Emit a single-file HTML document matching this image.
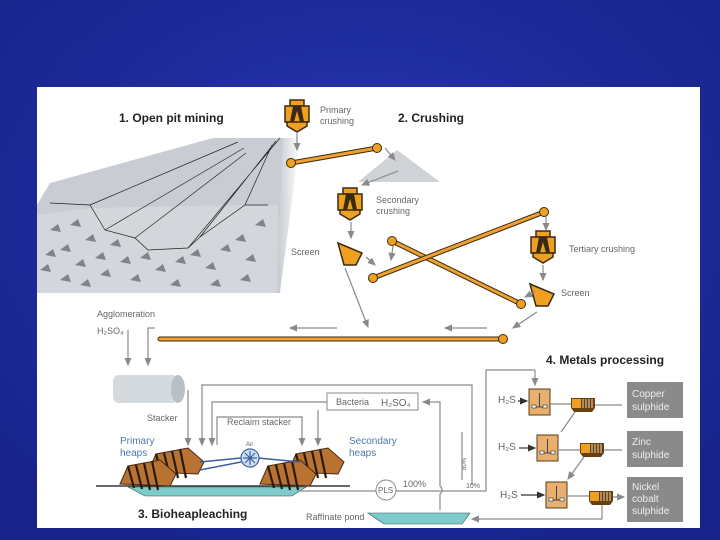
<!DOCTYPE html>
<html><head><meta charset="utf-8"><style>
html,body{margin:0;padding:0;width:720px;height:540px;overflow:hidden;background:#1f2f9e;}
svg{display:block}
text{font-family:"Liberation Sans",sans-serif;}
.l{font-size:9px;fill:#666;}
.t{font-size:12px;font-weight:bold;fill:#222;}
.b{font-size:10px;fill:#4a78b0;}
.g{stroke:#8a8a8a;stroke-width:1.2;fill:none;}
.c{stroke:#3a2a10;stroke-width:5;stroke-linecap:round;}
.ci{stroke:#f0a030;stroke-width:3;stroke-linecap:round;}
</style></head><body>
<svg width="720" height="540" viewBox="0 0 720 540" xmlns="http://www.w3.org/2000/svg">
<defs>
<radialGradient id="bg" cx="50%" cy="40%" r="70%"><stop offset="0" stop-color="#2536b0"/><stop offset="1" stop-color="#17238a"/></radialGradient>
<linearGradient id="wg" x1="0" y1="0" x2="1" y2="0"><stop offset="0" stop-color="#c4c8ce"/><stop offset="1" stop-color="#c4c8ce" stop-opacity="0"/></linearGradient>
<marker id="a" markerWidth="8" markerHeight="8" refX="6" refY="3" orient="auto"><path d="M0,0L7,3L0,6Z" fill="#8a8a8a"/></marker>
<marker id="ad" markerWidth="8" markerHeight="8" refX="6" refY="3" orient="auto"><path d="M0,0L7,3L0,6Z" fill="#333"/></marker>
<g id="cr">
<rect x="-7" y="-17" width="14" height="6" fill="#f0a020" stroke="#3a2a10" stroke-width="1.5"/>
<rect x="-12" y="-11" width="24" height="16" fill="#f0a020" stroke="#3a2a10" stroke-width="1.5"/>
<path d="M-7,5L-4,-11L4,-11L7,5Z" fill="#3a2a10"/>
<path d="M-3,5L0,-6L3,5Z" fill="#f0a020"/>
<path d="M-10,5L10,5L10,9L0,15L-10,9Z" fill="#f0a020" stroke="#3a2a10" stroke-width="1.5"/>
</g>
<g id="scr"><path d="M-12,-8L12,2L6,14L-6,14Z" fill="#f0a020" stroke="#3a2a10" stroke-width="1.5"/></g>
<g id="mx"><rect x="0" y="0" width="21" height="26" fill="#e8b070" stroke="#5a3a10" stroke-width="1"/><path d="M10.5,4V18M5,18H16" stroke="#444" fill="none"/><rect x="3" y="16" width="4" height="3" fill="#fff" stroke="#444" stroke-width=".7"/><rect x="14" y="16" width="4" height="3" fill="#fff" stroke="#444" stroke-width=".7"/></g>
<g id="fl"><path d="M0,0H24V10L21,14H3L0,10Z" fill="#6a4010"/><rect x="1" y="1" width="9" height="9" fill="#f0a020"/><path d="M12,1V10M15,1V10M18,1V10M21,1V10" stroke="#d8c0a0" stroke-width="1.2"/></g>
<g id="hp"><path d="M0,24L8,6L40,0L56,14L50,26Z" fill="#b87333" stroke="#4a2a10" stroke-width="1"/><path d="M8,6L14,28M16,5L22,29M24,3L30,30M32,1L38,30" stroke="#2a1a08" stroke-width="2.2"/></g>
</defs>
<rect width="720" height="540" fill="url(#bg)"/>
<rect x="37" y="87" width="663" height="441" fill="#fff"/>
<!-- pit -->
<path d="M37,205L50,183L213,138L283,138L277,293L37,293Z" fill="#c9cdd3"/>
<path d="M37,215L90,208L240,205L278,205L277,293L37,293Z" fill="#d3d6db"/>
<path d="M283,138L300,138L280,293L277,293Z" fill="url(#wg)"/>
<path d="M50,203L90,205L105,230L135,238L148,250L188,248L200,237L245,205L268,205" stroke="#222" stroke-width=".7" fill="none"/>
<path d="M90,205L238,142M105,230L244,148M135,238L246,153M188,248L280,138M200,237L276,141M245,205L272,145" stroke="#222" stroke-width=".7" fill="none"/>
<g fill="#808488">
<path d="M50,230l8,-6l3,8z"/><path d="M70,225l8,-6l3,8z"/><path d="M85,240l8,-6l3,8z"/><path d="M45,255l8,-6l3,8z"/><path d="M60,250l8,-6l3,8z"/><path d="M75,265l8,-6l3,8z"/><path d="M95,258l8,-6l3,8z"/><path d="M110,245l8,-6l3,8z"/><path d="M120,262l8,-6l3,8z"/><path d="M100,275l8,-6l3,8z"/><path d="M140,258l8,-6l3,8z"/><path d="M155,270l8,-6l3,8z"/><path d="M175,262l8,-6l3,8z"/><path d="M190,255l8,-6l3,8z"/><path d="M205,268l8,-6l3,8z"/><path d="M220,250l8,-6l3,8z"/><path d="M235,240l8,-6l3,8z"/><path d="M245,260l8,-6l3,8z"/><path d="M255,225l8,-6l3,8z"/><path d="M60,280l8,-6l3,8z"/><path d="M80,285l8,-6l3,8z"/><path d="M130,280l8,-6l3,8z"/><path d="M170,285l8,-6l3,8z"/><path d="M210,285l8,-6l3,8z"/><path d="M240,280l8,-6l3,8z"/><path d="M40,270l8,-6l3,8z"/>
</g>
<path d="M358,182L397,150L440,182Z" fill="#cfd3d8"/>
<text class="t" x="119" y="122">1. Open pit mining</text>
<text class="t" x="398" y="122">2. Crushing</text>
<text class="t" x="546" y="364">4. Metals processing</text>
<text class="t" x="138" y="518">3. Bioheapleaching</text>
<use href="#cr" x="297" y="117"/>
<text class="l" x="320" y="113">Primary</text><text class="l" x="320" y="124">crushing</text>
<use href="#cr" x="350" y="205"/>
<text class="l" x="376" y="203">Secondary</text><text class="l" x="376" y="214">crushing</text>
<use href="#cr" x="543" y="248"/>
<text class="l" x="569" y="252">Tertiary crushing</text>
<use href="#scr" x="350" y="251"/>
<text class="l" x="291" y="255">Screen</text>
<use href="#scr" x="542" y="292"/>
<text class="l" x="561" y="296">Screen</text>
<!-- arrows -->
<path class="g" marker-end="url(#a)" d="M297,132V150"/>
<path class="g" marker-end="url(#a)" d="M385,148L395,160"/>
<path class="g" marker-end="url(#a)" d="M398,171L362,185"/>
<path class="g" marker-end="url(#a)" d="M351,222V238"/>
<path class="g" marker-end="url(#a)" d="M366,257L375,265"/>
<path class="g" marker-end="url(#a)" d="M393,246L391,260"/>
<path class="g" marker-end="url(#a)" d="M546,214V230"/>
<path class="g" marker-end="url(#a)" d="M543,265V280"/>
<path class="g" marker-end="url(#a)" d="M535,292L525,297"/>
<path class="g" marker-end="url(#a)" d="M345,268L368,327"/>
<path class="g" marker-end="url(#a)" d="M537,312L513,328"/>
<path class="g" marker-end="url(#a)" d="M487,328H445"/>
<path class="g" marker-end="url(#a)" d="M337,328H290"/>
<path class="g" marker-end="url(#a)" d="M155,328H148V365"/>
<path class="g" marker-end="url(#a)" d="M128,330V365"/>
<!-- conveyors -->
<g><line class="c" x1="291" y1="163" x2="377" y2="148"/><line class="ci" x1="291" y1="163" x2="377" y2="148"/><circle cx="291" cy="163" r="4.5" fill="#f0a020" stroke="#3a2a10"/><circle cx="377" cy="148" r="4.5" fill="#f0a020" stroke="#3a2a10"/></g>
<g><line class="c" x1="392" y1="241" x2="521" y2="304"/><line class="ci" x1="392" y1="241" x2="521" y2="304"/><circle cx="392" cy="241" r="4.5" fill="#f0a020" stroke="#3a2a10"/><circle cx="521" cy="304" r="4.5" fill="#f0a020" stroke="#3a2a10"/></g>
<g><line class="c" x1="373" y1="278" x2="544" y2="212"/><line class="ci" x1="373" y1="278" x2="544" y2="212"/><circle cx="373" cy="278" r="4.5" fill="#f0a020" stroke="#3a2a10"/><circle cx="544" cy="212" r="4.5" fill="#f0a020" stroke="#3a2a10"/></g>
<g><line class="c" x1="160" y1="339" x2="503" y2="339"/><line class="ci" x1="160" y1="339" x2="503" y2="339"/><circle cx="503" cy="339" r="4.5" fill="#f0a020" stroke="#3a2a10"/></g>
<text class="l" x="97" y="317">Agglomeration</text>
<text class="l" x="97" y="334">H₂SO₄</text>
<!-- cylinder -->
<rect x="113" y="375" width="65" height="28" rx="6" fill="#d5dadf"/>
<ellipse cx="178" cy="389" rx="7" ry="14" fill="#b9bfc6"/>
<text class="l" x="147" y="421">Stacker</text>
<path class="g" marker-end="url(#a)" d="M188,390V445"/>
<path class="g" marker-end="url(#a)" d="M472,485V385H202V445"/>
<rect x="327" y="393" width="91" height="17" fill="#fff" stroke="#888"/>
<text class="l" x="336" y="405">Bacteria</text><text class="l" x="381" y="406" style="font-size:10px">H₂SO₄</text>
<path class="g" marker-end="url(#a)" d="M327,402H212V445"/>
<path class="g" marker-end="url(#a)" d="M318,410V445"/>
<path class="g" marker-end="url(#a)" d="M217,445V417H302V445"/>
<text class="l" x="227" y="425">Reclaim stacker</text>
<path class="g" marker-end="url(#a)" d="M440,510V494A5,5 0 0 0 440,486V402H423"/>
<text class="b" x="120" y="444">Primary</text><text class="b" x="120" y="456">heaps</text>
<text class="b" x="349" y="444">Secondary</text><text class="b" x="349" y="456">heaps</text>
<text class="l" x="246" y="446" style="font-size:6px">Air</text>
<!-- base -->
<path d="M128,487H306L292,496H145Z" fill="#7fcaca" stroke="#2a5a5a" stroke-width=".6"/>
<line x1="96" y1="486" x2="350" y2="486" stroke="#111" stroke-width="1.3"/>
<path class="g" d="M300,491H376M396,491H486V370H535" />
<path class="g" marker-end="url(#a)" d="M535,370V385"/>
<use href="#hp" x="148" y="448"/><use href="#hp" x="120" y="460"/>
<use href="#hp" x="288" y="448"/><use href="#hp" x="260" y="460"/>
<path d="M200,462L241,458M258,458L300,462M200,470L241,462" stroke="#3a60a0" stroke-width="1.5"/>
<circle cx="250" cy="458" r="9" fill="#cfe0f5" stroke="#3a60a0" stroke-width="1.2"/>
<path d="M245,453L255,463M255,453L245,463M250,451V465M243,458H257" stroke="#3a60a0" stroke-width="1.2"/>
<circle cx="386" cy="490" r="10" fill="#fff" stroke="#888"/>
<text class="l" x="378" y="493" style="font-size:8px">PLS</text>
<text class="l" x="403" y="487">100%</text>
<text class="l" x="466" y="488" style="font-size:7px">10%</text>
<text class="l" transform="translate(466,470) rotate(-90)" style="font-size:6px">80%</text>
<path class="g" d="M462,480V432"/>
<path d="M368,513H470L462,524H384Z" fill="#7fcaca" stroke="#2a5a5a" stroke-width=".6"/>
<text class="l" x="306" y="520">Raffinate pond</text>
<!-- metals -->
<use href="#mx" x="529" y="389"/><use href="#mx" x="537" y="435"/><use href="#mx" x="546" y="482"/>
<use href="#fl" x="571" y="398"/><use href="#fl" x="580" y="443"/><use href="#fl" x="589" y="491"/>
<text class="l" x="498" y="403" style="font-size:10px">H₂S</text>
<text class="l" x="498" y="450" style="font-size:10px">H₂S</text>
<text class="l" x="500" y="498" style="font-size:10px">H₂S</text>
<path class="g" marker-end="url(#ad)" style="stroke:#333" d="M518,401H527"/>
<path class="g" marker-end="url(#ad)" style="stroke:#333" d="M519,448H535"/>
<path class="g" marker-end="url(#ad)" style="stroke:#333" d="M521,495H544"/>
<path class="g" d="M550,404H571M558,450H580M567,496H589"/>
<path class="g" marker-end="url(#a)" d="M595,405H622M604,450H622M613,497H624"/>
<path class="g" marker-end="url(#a)" d="M575,412L561,432M584,457L568,479"/>
<path class="g" marker-end="url(#a)" d="M602,505V519H472"/>
<rect x="627" y="382" width="56" height="36" fill="#8a8a8a"/>
<rect x="627" y="431" width="56" height="36" fill="#8a8a8a"/>
<rect x="627" y="477" width="56" height="45" fill="#8a8a8a"/>
<g style="font-size:10px;fill:#eee;font-family:'Liberation Sans',sans-serif">
<text x="632" y="397">Copper</text><text x="632" y="410">sulphide</text>
<text x="632" y="445">Zinc</text><text x="632" y="458">sulphide</text>
<text x="632" y="490">Nickel</text><text x="632" y="502">cobalt</text><text x="632" y="514">sulphide</text>
</g>
</svg>
</body></html>
